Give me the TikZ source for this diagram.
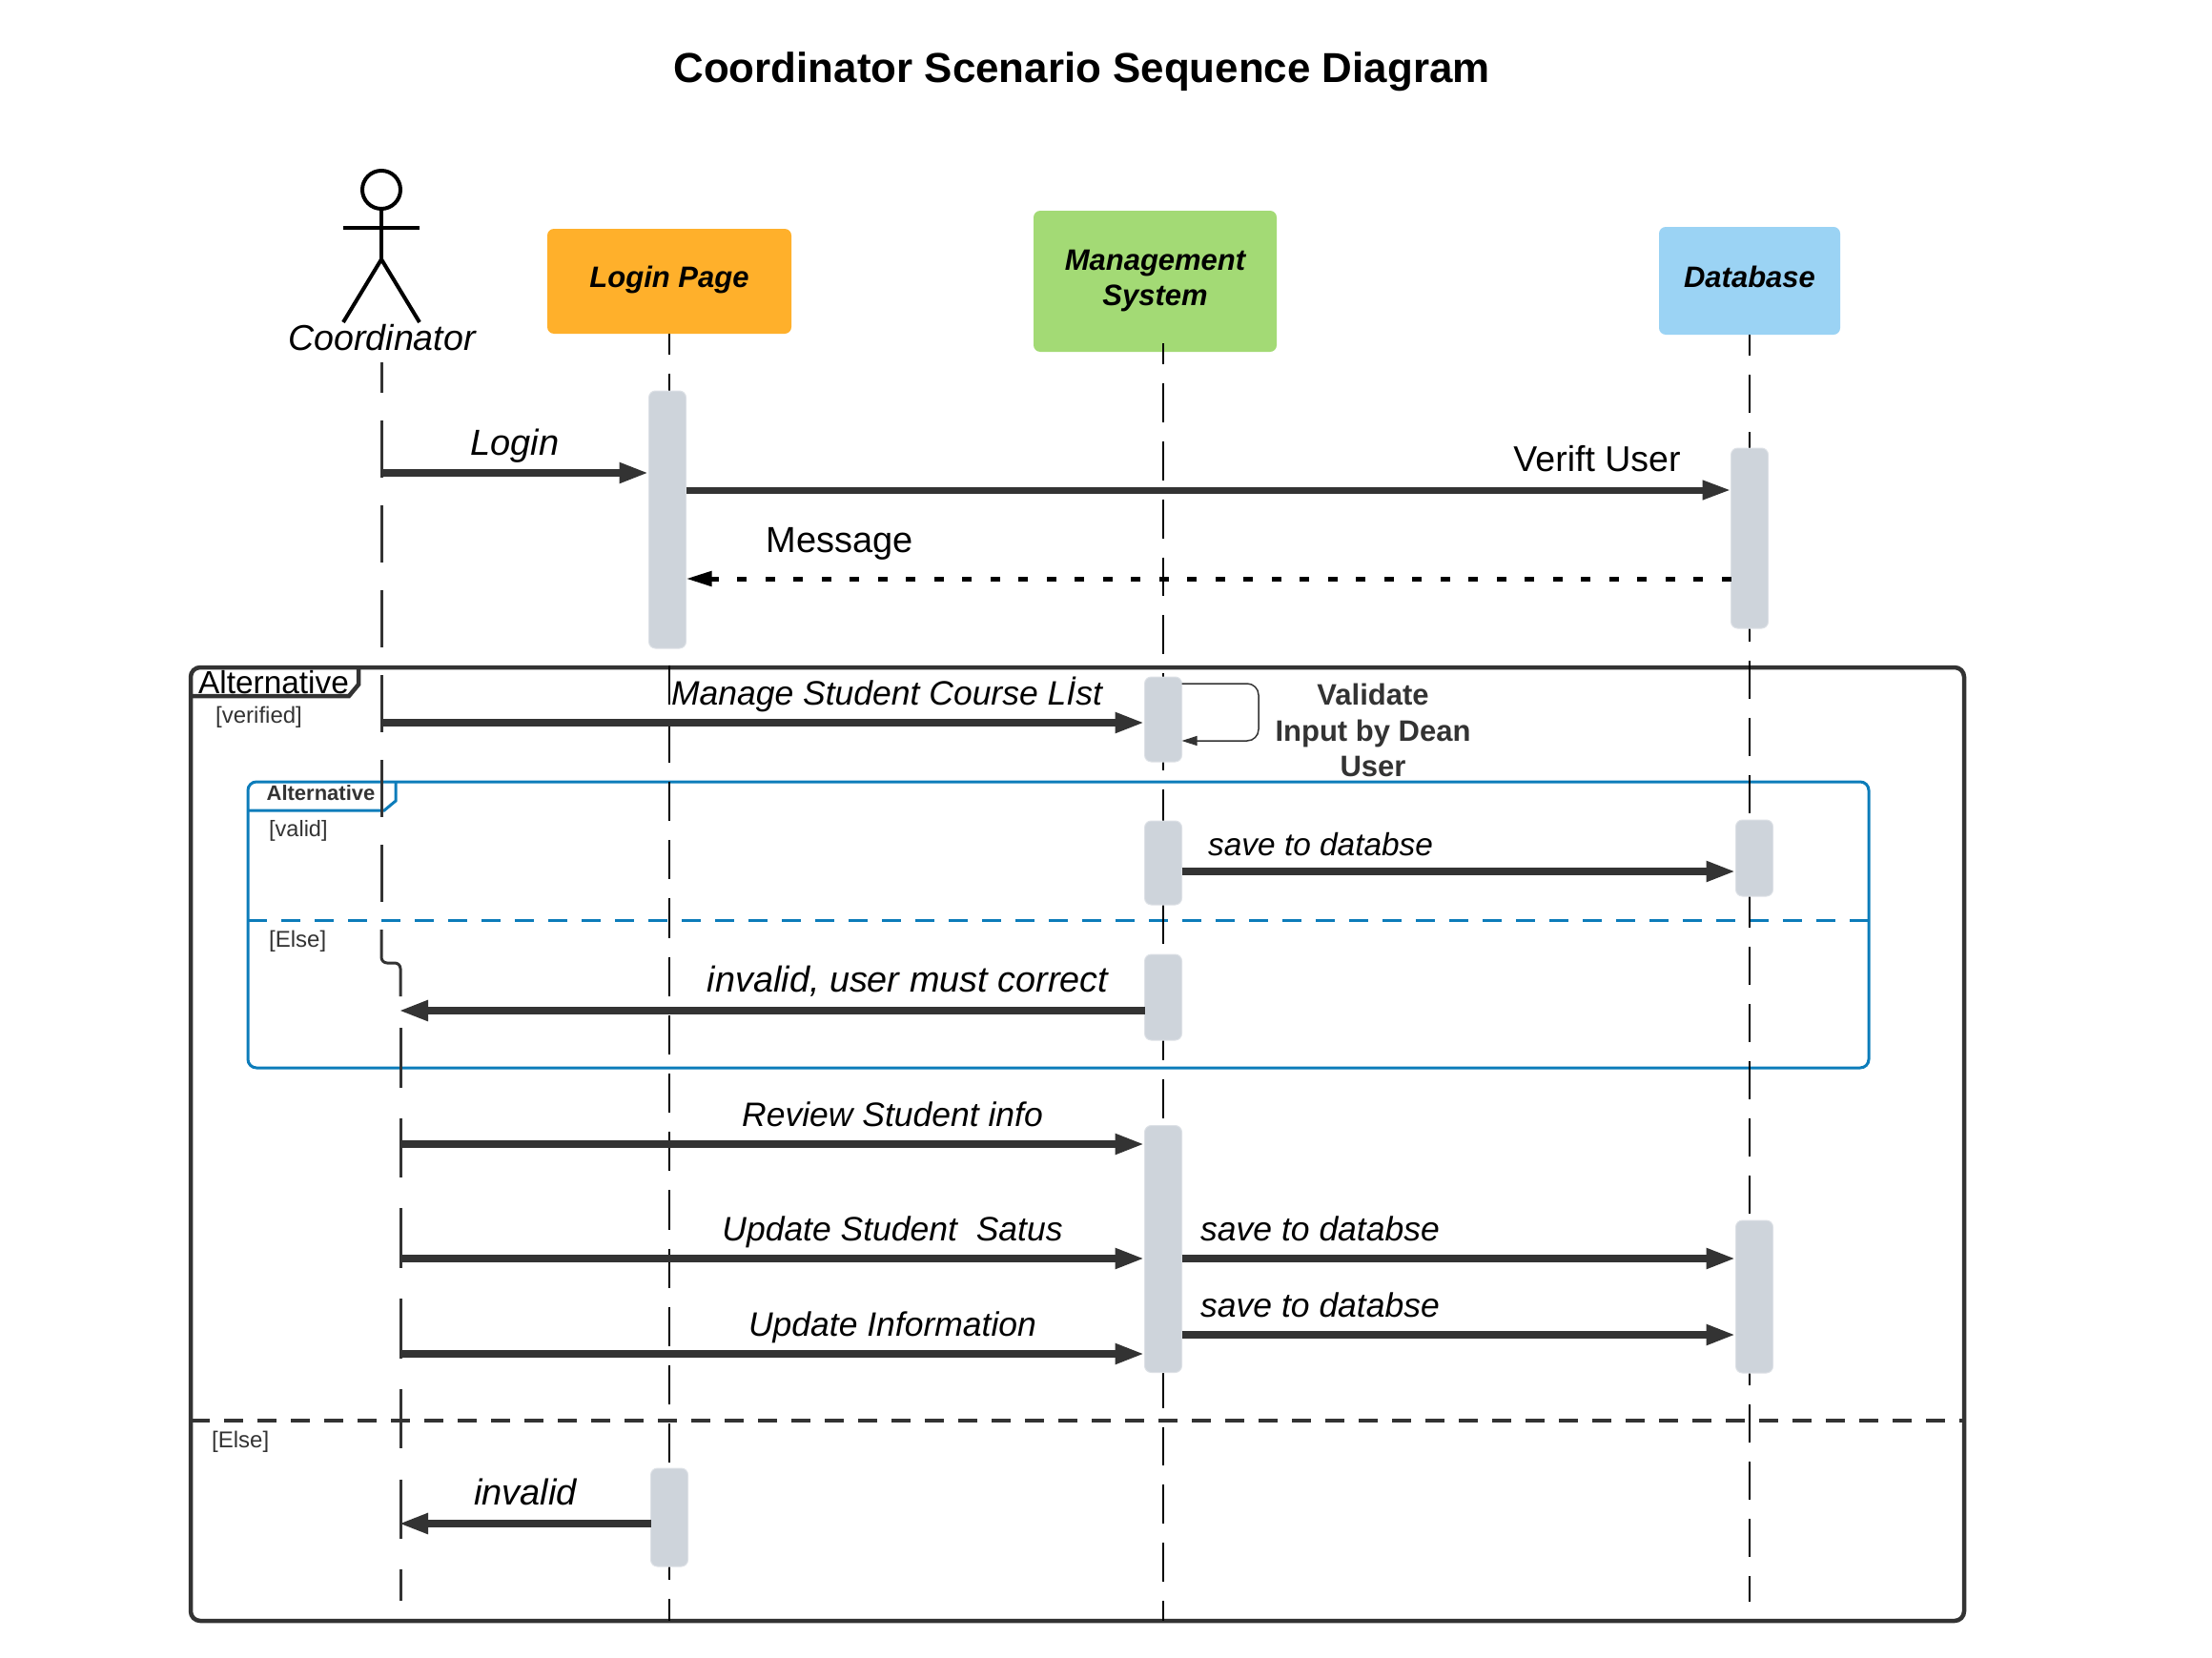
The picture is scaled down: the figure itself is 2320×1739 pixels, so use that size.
\documentclass[tikz,border=0pt]{standalone}
\usepackage{fontspec}
\setmainfont{Liberation Sans}
\usetikzlibrary{arrows.meta}

\definecolor{inkdark}{HTML}{333333}
\definecolor{framblue}{HTML}{0C7CBA}
\definecolor{barfill}{HTML}{CED4DB}
\definecolor{loginfill}{HTML}{FFB02B}
\definecolor{mgmtfill}{HTML}{A3DA75}
\definecolor{dbfill}{HTML}{9BD3F4}

\tikzset{
    party/.style={rounded corners=7pt, inner sep=0pt, outer sep=0pt, align=center,
        font=\fontsize{31}{37}\selectfont\bfseries\itshape},
    bar/.style={fill=barfill, draw=barfill!70!white, line width=1pt, rounded corners=7pt,
        minimum width=39pt, inner sep=0pt, outer sep=0pt},
    lifeline/.style={draw=black, line width=2.3pt},
    msg/.style={draw=inkdark, line width=8pt, -{Triangle[length=31pt,width=20pt]}},
    reply/.style={draw=black, line width=5pt, dash pattern=on 10pt off 19.5pt,
        -{Triangle[length=27pt,width=15pt]}},
    lbl/.style={anchor=base, inner sep=0pt, font=\fontsize{35.5}{42}\selectfont\itshape},
    big/.style={anchor=base, inner sep=0pt, font=\fontsize{38}{44}\selectfont},
    guard/.style={anchor=base west, inner sep=0pt, text=inkdark, font=\fontsize{24}{28}\selectfont},
    stick/.style={draw=black, line width=4pt},
}

\begin{document}
\begin{tikzpicture}[x=1pt, y=-1pt]
    \useasboundingbox (0,0) rectangle (2320,1739);

    \node[anchor=base, inner sep=0pt, font=\fontsize{43.9}{50}\selectfont\bfseries] (title) at (1134.5,87) {Coordinator Scenario Sequence Diagram};

    \node[party, fill=loginfill, minimum width=256pt, minimum height=110pt, text height=22pt, text depth=10pt] (loginPage) at (702,295) {Login Page};
    \node[party, fill=mgmtfill, minimum width=255pt, minimum height=148pt] (mgmtSys) at (1211.5,295) {Management\\System};
    \node[party, fill=dbfill, minimum width=190pt, minimum height=113pt, text height=23pt, text depth=10pt] (dbBox) at (1835,294.5) {Database};

    \node[stick, circle, minimum size=40pt, inner sep=0pt, outer sep=0pt] (actorHead) at (400,199) {};
    \draw[stick] (actorHead.south) -- (400,272);
    \draw[stick] (360,239) -- (440,239);
    \draw[stick] (360,338) -- (400,272) -- (440,338);
    \node[anchor=base, inner sep=0pt, font=\fontsize{37.6}{44}\selectfont\itshape] (coordinator) at (400.5,367.5) {Coordinator};

    % frames
    \draw[draw=inkdark, line width=4.5pt, rounded corners=10pt] (200,700) rectangle (2060,1700);
    \draw[draw=inkdark, line width=4.5pt] (200,730) -- (366,730) -- (376,718) -- (376,700);
    \draw[draw=inkdark, line width=4pt, dash pattern=on 20pt off 15pt] (200,1490) -- (2060,1490);
    \node[anchor=base, inner sep=0pt, font=\fontsize{33.4}{38}\selectfont] (altOuter) at (287,727) {Alternative};
    \node[guard] (verified) at (226,758) {[verified]};
    \node[guard] (elseOuter) at (222,1518) {[Else]};

    \draw[draw=framblue, line width=3pt, rounded corners=9pt] (260,820) rectangle (1960,1120);
    \draw[draw=framblue, line width=3pt] (260,850) -- (403,850) -- (415,840) -- (415,820);
    \draw[draw=framblue, line width=3pt, dash pattern=on 20pt off 15pt] (260,965) -- (1960,965);
    \node[anchor=base, inner sep=0pt, text=inkdark, font=\fontsize{22}{26}\selectfont\bfseries] (altInner) at (336.5,839) {Alternative};
    \node[guard, font=\fontsize{23.5}{28}\selectfont] (valid) at (282,877) {[valid]};
    \node[guard] (elseInner) at (282,993) {[Else]};

    \coordinate (coordTop) at (400,380);
    \coordinate (coordMid) at (400,975);
    \coordinate (coordLow) at (420,1045);
    \coordinate (coordNext) at (420,1078);
    \coordinate (coordEnd) at (420,1679);
    \coordinate (lifeEnd) at (0,1700);
    \coordinate (dbEnd) at (0,1680);

    \draw[draw=inkdark, line width=3pt, dash pattern=on 60pt off 29pt, dash phase=28pt] (coordTop) -- (coordMid);
    \draw[draw=inkdark, line width=3pt, rounded corners=6pt] (coordMid) -- (400,1010) -- (420,1010) -- (coordLow);
    \draw[draw=inkdark, line width=3pt, dash pattern=on 62.5pt off 32.2pt] (coordNext) -- (coordEnd);

    \draw[lifeline, dash pattern=on 41.2pt off 20pt, dash phase=19.6pt] (loginPage.south) -- (loginPage.south |- lifeEnd);
    \draw[lifeline, dash pattern=on 40.8pt off 20pt, dash phase=18.6pt] (1220,360) -- (1220,1700);
    \draw[lifeline, dash pattern=on 40pt off 20pt, dash phase=18pt] (dbBox.south) -- (dbBox.south |- dbEnd);

    \node[bar, minimum height=270pt] (loginBar) at (700,545) {};
    \node[bar, minimum height=103pt] (invalidBar) at (702,1591.5) {};
    \node[bar, minimum height=89pt] (mgmtBarA) at (1220,754.5) {};
    \node[bar, minimum height=88pt] (mgmtBarB) at (1220,905) {};
    \node[bar, minimum height=90pt] (mgmtBarC) at (1220,1046) {};
    \node[bar, minimum height=259pt] (mgmtBarD) at (1220,1310) {};
    \node[bar, minimum height=189pt] (dbBarA) at (1835,564.5) {};
    \node[bar, minimum height=80pt] (dbBarB) at (1840,900) {};
    \node[bar, minimum height=160pt] (dbBarC) at (1840,1360) {};

    \coordinate (yLogin) at (400,496);
    \coordinate (yVerify) at (0,514);
    \coordinate (yMessage) at (0,607);
    \coordinate (yManage) at (400,758);
    \coordinate (yLoopTop) at (0,717);
    \coordinate (yLoopLow) at (0,777);
    \coordinate (loopEast) at (1320,747);
    \coordinate (ySaveA) at (0,914);
    \coordinate (yWrong) at (418,1060);
    \coordinate (yReview) at (420,1200);
    \coordinate (yStatus) at (420,1320);
    \coordinate (yInfo) at (420,1420);
    \coordinate (ySaveC) at (0,1400);
    \coordinate (yInvalid) at (418,1598);

    \draw[msg] (yLogin) -- (yLogin -| loginBar.west);
    \draw[msg, line width=7pt, -{Triangle[length=30pt,width=19pt]}] (loginBar.east |- yVerify) -- (dbBarA.west |- yVerify);
    \draw[reply] (dbBarA.west |- yMessage) -- (loginBar.east |- yMessage);
    \draw[msg] (yManage) -- (yManage -| mgmtBarA.west);
    \draw[draw=inkdark, line width=1.5pt, rounded corners=12pt, -{Triangle[length=16pt,width=10pt]}] (mgmtBarA.east |- yLoopTop) -| (loopEast) |- (mgmtBarA.east |- yLoopLow);
    \draw[msg] (mgmtBarB.east |- ySaveA) -- (dbBarB.west |- ySaveA);
    \draw[msg] (mgmtBarC.west |- yWrong) -- (yWrong);
    \draw[msg] (yReview) -- (yReview -| mgmtBarD.west);
    \draw[msg] (yStatus) -- (yStatus -| mgmtBarD.west);
    \draw[msg] (yInfo) -- (yInfo -| mgmtBarD.west);
    \draw[msg] (mgmtBarD.east |- yStatus) -- (dbBarC.west |- yStatus);
    \draw[msg] (mgmtBarD.east |- ySaveC) -- (dbBarC.west |- ySaveC);
    \draw[msg] (invalidBar.west |- yInvalid) -- (yInvalid);

    \node[lbl, font=\fontsize{38}{44}\selectfont\itshape] (loginLbl) at (540,477) {Login};
    \node[big, font=\fontsize{37.5}{44}\selectfont] (verifyLbl) at (1675,494) {Verift User};
    \node[big] (messageLbl) at (881,579) {Message};
    \node[lbl] (manageLbl) at (930,739) {Manage Student Course Lİst};
    \node[anchor=north, inner sep=0pt, align=center, text=inkdark, font=\fontsize{31}{37.5}\selectfont\bfseries] (validateLbl) at (1440,717) {Validate\\Input by Dean\\User};
    \node[lbl, anchor=base west, font=\fontsize{33.4}{42}\selectfont\itshape] (saveLblA) at (1267,897) {save to databse};
    \node[big, font=\fontsize{37.8}{44}\selectfont\itshape] (wrongLbl) at (952,1040) {invalid, user must correct};
    \node[lbl] (reviewLbl) at (936,1181) {Review Student info};
    \node[lbl] (statusLbl) at (936,1301) {Update Student\ \ Satus};
    \node[lbl] (infoLbl) at (936,1401) {Update Information};
    \node[lbl, anchor=base west] (saveLblB) at (1259,1301) {save to databse};
    \node[lbl, anchor=base west] (saveLblC) at (1259,1381) {save to databse};
    \node[big, font=\fontsize{38}{44}\selectfont\itshape] (invalidLbl) at (551,1578) {invalid};
\end{tikzpicture}
\end{document}
